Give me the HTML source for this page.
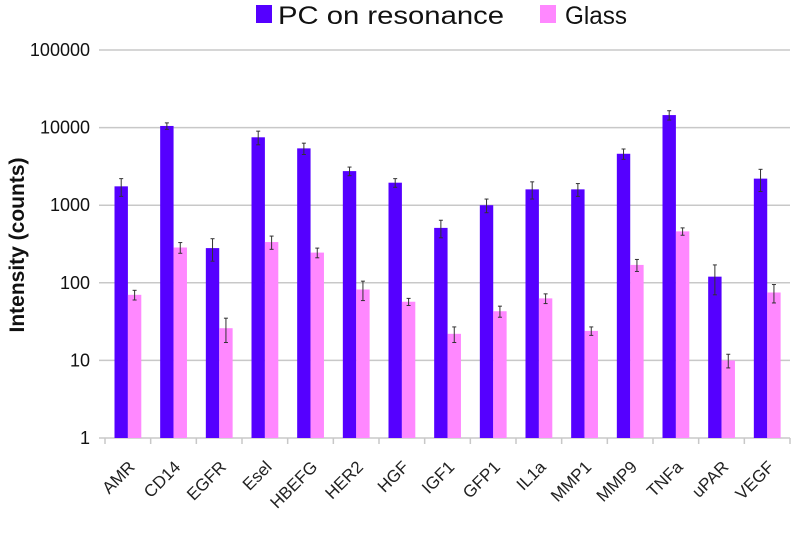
<!DOCTYPE html>
<html><head><meta charset="utf-8"><style>
body{margin:0;background:#fff;width:800px;height:531px;overflow:hidden;font-family:"Liberation Sans",Arial,sans-serif}
</style></head><body>
<svg id="chart" width="800" height="531" xmlns="http://www.w3.org/2000/svg"></svg>
<script>
const categories=["AMR","CD14","EGFR","Esel","HBEFG","HER2","HGF","IGF1","GFP1","IL1a","MMP1","MMP9","TNFa","uPAR","VEGF"];
const pcValues=[1750,10500,280,7500,5400,2750,1950,510,1000,1600,1600,4600,14500,120,2200];
const pcErr=[450,1000,90,1500,900,350,250,130,200,400,300,700,2000,50,700];
const glassValues=[70,285,26,335,245,82,57,22,43,63,24,170,460,10,75];
const glassErr=[10,45,9,65,35,23,6,5,7,9,3,30,50,2,20];
const yTicks=[1,10,100,1000,10000,100000];
const yTickLabels=["1","10","100","1000","10000","100000"];
const NS="http://www.w3.org/2000/svg";
const svg=document.getElementById('chart');
const L=105,R=790,Y1=438,DEC=77.6;
const bw=(R-L)/categories.length;
function y(v){return Y1-Math.log10(v)*DEC;}
function x(i){return L+i*bw;}
function mk(t,a,p){const e=document.createElementNS(NS,t);for(const k in a)e.setAttribute(k,a[k]);(p||svg).appendChild(e);return e;}
yTicks.forEach((t,i)=>{
 const g=mk('line',{x1:L-6,x2:R,y1:y(t),y2:y(t),stroke:'#c8c8c8','stroke-width':1.5});
 
 
 const tx=mk('text',{x:L-15,y:y(t)+6,'text-anchor':'end','font-size':18,fill:'#111'});
 tx.textContent=yTickLabels[i];
 
 
});
for(let i=0;i<=categories.length;i++){
 const t=mk('line',{x1:x(i),x2:x(i),y1:Y1,y2:Y1+6,stroke:'#c8c8c8','stroke-width':1.5});
 
 
}
const barW=13.4,pad=9.5;
function errBar(cx,v,e){
 const g=mk('g',{stroke:'#333','stroke-width':1});
 
 
 mk('line',{x1:cx,x2:cx,y1:y(v+e),y2:y(Math.max(v-e,1.01))},g);
 mk('line',{x1:cx-2,x2:cx+2,y1:y(v+e),y2:y(v+e)},g);
 mk('line',{x1:cx-2,x2:cx+2,y1:y(Math.max(v-e,1.01)),y2:y(Math.max(v-e,1.01))},g);
}
categories.forEach((c,i)=>{
 const x0=x(i)+pad;
 const b1=mk('rect',{x:x0,y:y(pcValues[i]),width:barW,height:Y1-y(pcValues[i]),fill:'#5500ff'});
 
 
 const b2=mk('rect',{x:x0+barW,y:y(glassValues[i]),width:barW,height:Y1-y(glassValues[i]),fill:'#ff88ff'});
 
 
 errBar(x0+barW/2,pcValues[i],pcErr[i]);
 errBar(x0+barW*1.5,glassValues[i],glassErr[i]);
 const cx=x(i)+bw/2+8,cy=Y1+30;
 const t=mk('text',{x:cx,y:cy,'text-anchor':'end','font-size':17,fill:'#222',transform:`rotate(-45 ${cx} ${cy})`});
 t.textContent=c;
 
 
});
const yt=mk('text',{x:24,y:245,'text-anchor':'middle','font-size':21,'font-weight':'bold',fill:'#111',transform:'rotate(-90 24 245)'});
yt.textContent='Intensity (counts)';


const lg=mk('g',{});


mk('rect',{x:256,y:5,width:16,height:18,fill:'#5500ff'},lg);
const l1=mk('text',{x:278,y:24,'font-size':25,fill:'#111',textLength:226,lengthAdjust:'spacingAndGlyphs'},lg);l1.textContent='PC on resonance';


mk('rect',{x:540,y:5,width:16,height:18,fill:'#ff88ff'},lg);
const l2=mk('text',{x:565,y:24,'font-size':25,fill:'#111',textLength:62,lengthAdjust:'spacingAndGlyphs'},lg);l2.textContent='Glass';


</script>
</body></html>
